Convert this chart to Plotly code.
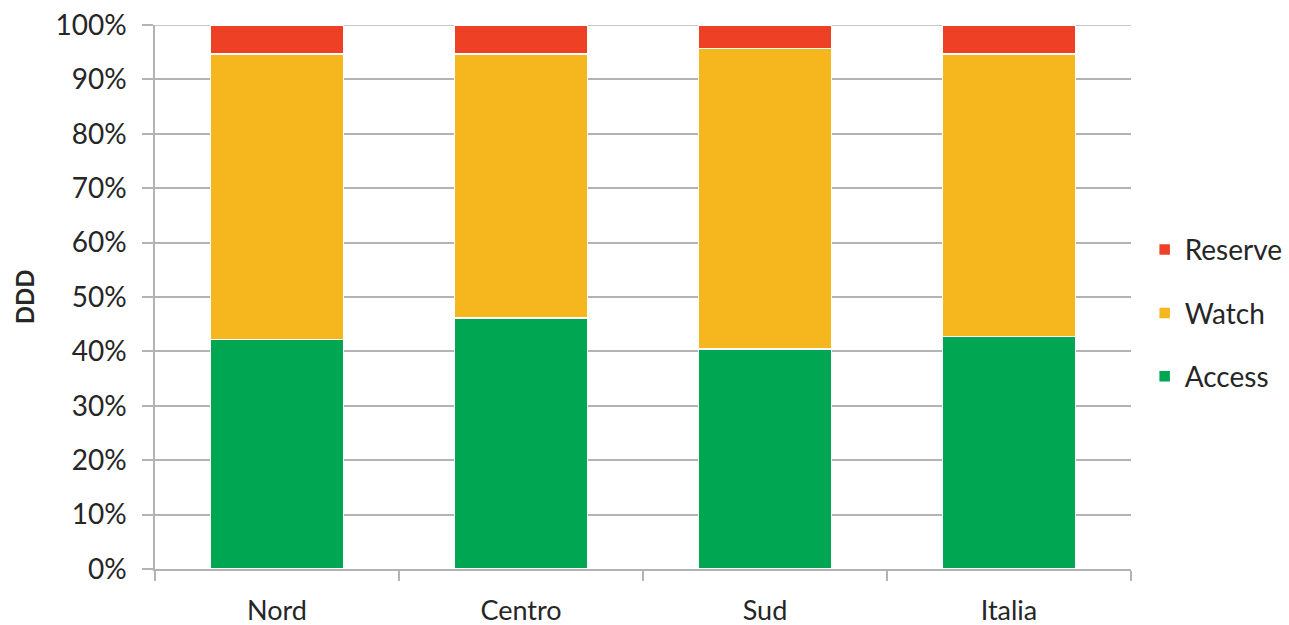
import plotly.graph_objects as go

categories = ["Nord", "Centro", "Sud", "Italia"]
access = [42.2, 46.1, 40.4, 42.7]
watch = [52.5, 48.6, 55.3, 52.0]
reserve = [5.3, 5.3, 4.3, 5.3]
y_ticks = [0, 10, 20, 30, 40, 50, 60, 70, 80, 90, 100]
y_tick_labels = [f"{v}%" for v in y_ticks]
y_title = "DDD"

series = [
    ("Access", access, "#00A651", 3),
    ("Watch", watch, "#F5B71D", 2),
    ("Reserve", reserve, "#EE4024", 1),
]

font_family = "Lato, 'Open Sans', sans-serif"
text_color = "#262626"
grid_color = "#b3b3b3"

fig = go.Figure()
for i, (name, vals, color, rank) in enumerate(series):
    fig.add_trace(go.Bar(
        x=categories, y=vals, name=name,
        legendgroup=f"g{i}", legendrank=rank,
        marker=dict(color=color, line=dict(color="white", width=1.5)),
        hoverinfo="x+y+name",
    ))

fig.update_layout(
    barmode="stack",
    bargap=0.453,
    width=1289, height=625,
    margin=dict(l=155, r=158, t=25, b=56, autoexpand=False),
    plot_bgcolor="white", paper_bgcolor="white",
    font=dict(family=font_family, size=28, color=text_color),
    legend=dict(
        traceorder="grouped",
        x=1.014, xanchor="left",
        y=0.47, yanchor="middle",
        font=dict(size=28, color=text_color),
        tracegroupgap=24,
        bgcolor="rgba(0,0,0,0)",
    ),
    showlegend=True,
)

# top gridline (at the upper edge of the plotting area)
fig.add_shape(
    type="line", xref="paper", yref="y",
    x0=0, x1=1, y0=y_ticks[-1], y1=y_ticks[-1],
    line=dict(color=grid_color, width=1.5), layer="below",
)

# y-axis title as rotated annotation
fig.add_annotation(
    text=f"<b>{y_title}</b>", textangle=-90,
    xref="paper", yref="paper", x=-0.134, y=0.5,
    xanchor="center", yanchor="middle", showarrow=False,
    font=dict(size=24, color=text_color),
)

fig.update_yaxes(
    range=[y_ticks[0], y_ticks[-1]],
    tickmode="array", tickvals=y_ticks, ticktext=y_tick_labels,
    showgrid=True, gridcolor=grid_color, gridwidth=1.5,
    showline=True, linecolor=grid_color, linewidth=1.5,
    ticks="outside", ticklen=11, tickcolor=grid_color, tickwidth=1.5,
    ticklabelstandoff=10,
    zeroline=False,
    tickfont=dict(size=28, color=text_color),
    automargin=False,
    fixedrange=True,
)
fig.update_xaxes(
    type="category",
    tickson="boundaries",
    ticks="outside", ticklen=10, tickcolor=grid_color, tickwidth=1.5,
    ticklabelstandoff=17,
    showline=True, linecolor=grid_color, linewidth=1.5,
    showgrid=False,
    tickfont=dict(size=27, color=text_color),
    automargin=False,
    fixedrange=True,
)

fig.write_html(
    "out.html",
    config={"displayModeBar": False},
    post_script="document.body.style.margin='0';document.body.style.overflow='hidden';",
)
